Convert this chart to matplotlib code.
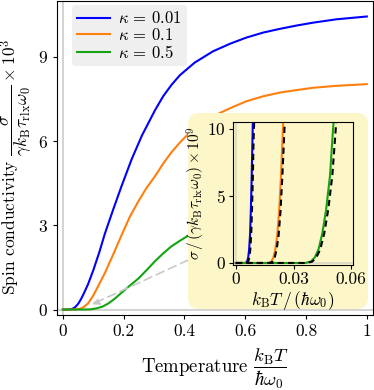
import numpy as np
import matplotlib
matplotlib.use('Agg')
import matplotlib.pyplot as plt
from matplotlib.patches import FancyBboxPatch
from matplotlib.transforms import IdentityTransform

plt.rcParams.update({
    'mathtext.fontset': 'cm',
    'font.family': 'serif',
    'font.serif': ['cmr10'],
    'axes.formatter.use_mathtext': True,
    'axes.unicode_minus': False,
})

# Main panel: spin conductivity vs temperature
T_blue = [0, 0.02, 0.03, 0.04, 0.05, 0.06, 0.07, 0.083, 0.1, 0.12, 0.138, 0.165, 0.193, 0.226,
          0.26, 0.303, 0.33, 0.357, 0.385, 0.434, 0.494, 0.55, 0.604, 0.66, 0.714, 0.77, 0.823,
          0.9, 1.0]
s_blue = [0, 0, 0.02, 0.08, 0.2, 0.38, 0.6, 0.91, 1.4, 2.05, 2.7, 3.55, 4.4, 5.35,
          6.2, 7.1, 7.6, 8.0, 8.35, 8.8, 9.2, 9.47, 9.69, 9.87, 10.0, 10.12, 10.22,
          10.34, 10.44]

T_orange = [0, 0.04, 0.05, 0.06, 0.07, 0.083, 0.1, 0.12, 0.138, 0.165, 0.193, 0.22, 0.248,
            0.275, 0.303, 0.33, 0.357, 0.385, 0.412, 0.46, 0.516, 0.56, 0.604, 0.66, 0.714,
            0.77, 0.823, 0.9, 1.0]
s_orange = [0, 0, 0.01, 0.04, 0.1, 0.22, 0.5, 0.92, 1.3, 1.95, 2.65, 3.3, 3.85,
            4.33, 4.75, 5.2, 5.6, 5.95, 6.25, 6.65, 7.0, 7.22, 7.42, 7.6, 7.73,
            7.82, 7.9, 7.97, 8.03]

T_green = [0, 0.07, 0.09, 0.11, 0.13, 0.15, 0.17, 0.193, 0.22, 0.248, 0.275, 0.303, 0.33,
           0.357, 0.385, 0.412, 0.45, 0.5, 0.6, 0.7, 0.8, 0.9, 1.0]
s_green = [0, 0, 0.005, 0.04, 0.1, 0.22, 0.38, 0.6, 0.85, 1.1, 1.4, 1.72, 2.0,
           2.25, 2.45, 2.63, 2.9, 3.25, 3.85, 4.3, 4.6, 4.8, 5.0]

labels = [r'$\kappa\,=\,0.01$', r'$\kappa\,=\,0.1$', r'$\kappa\,=\,0.5$']
colors = ['#0000ff', '#ff7f0e', '#13a313']

xticks = [0, 0.2, 0.4, 0.6, 0.8, 1.0]
xticklabels = ['0', '0.2', '0.4', '0.6', '0.8', '1']
yticks = [0, 3, 6, 9]

# Inset: low temperature detail, full result (solid) and asymptote (dashed)
t_in_blue = [0, 0.005, 0.0058, 0.0064, 0.0069, 0.0074, 0.0078, 0.0082, 0.0086, 0.0089]
y_in_blue = [0, 0, 0.1, 0.4, 1.0, 2.2, 4.0, 6.2, 9.0, 11.0]
t_as_blue = [0, 0.0055, 0.0064, 0.007, 0.0075, 0.008, 0.0084, 0.0088, 0.0092, 0.0096]
y_as_blue = [0, 0, 0.1, 0.4, 1.0, 2.2, 4.0, 6.2, 9.0, 11.0]

t_in_orange = [0, 0.017, 0.0185, 0.0195, 0.0205, 0.0215, 0.0225, 0.0235, 0.0245, 0.025]
y_in_orange = [0, 0, 0.1, 0.4, 1.0, 2.0, 3.8, 6.5, 10.0, 11.5]
t_as_orange = [0, 0.0175, 0.0191, 0.0202, 0.0212, 0.0222, 0.0232, 0.0242, 0.0253, 0.0258]
y_as_orange = [0, 0, 0.1, 0.4, 1.0, 2.0, 3.8, 6.5, 10.0, 11.5]

t_in_green = [0, 0.036, 0.039, 0.041, 0.043, 0.045, 0.047, 0.049, 0.0506, 0.0515]
y_in_green = [0, 0, 0.1, 0.4, 1.0, 2.2, 4.0, 6.5, 10.0, 11.5]
t_as_green = [0, 0.0365, 0.0397, 0.0418, 0.0439, 0.046, 0.0481, 0.0502, 0.052, 0.053]
y_as_green = [0, 0, 0.1, 0.4, 1.0, 2.2, 4.0, 6.5, 10.0, 11.5]

in_xticks = [0, 0.03, 0.06]
in_xticklabels = ['0', '0.03', '0.06']
in_yticks = [0, 5, 10]

fig = plt.figure(figsize=(3.74, 3.90), dpi=100)
ax = fig.add_axes([0.152, 0.192, 0.845, 0.806])

ax.axhline(0, color='#cccccc', lw=1.2, zorder=0)
ax.axvline(0, color='#cccccc', lw=1.2, zorder=0)
ax.plot(T_blue, s_blue, color=colors[0], lw=1.5, label=labels[0])
ax.plot(T_orange, s_orange, color=colors[1], lw=1.5, label=labels[1])
ax.plot(T_green, s_green, color=colors[2], lw=1.5, label=labels[2])

ax.annotate('', xy=(0.087, 0.14), xytext=(0.5, 2.2),
            arrowprops=dict(arrowstyle='-|>', color='#c8c8c8', lw=1.2,
                            linestyle=(0, (5, 3)), mutation_scale=10))

ax.set_xlim(-0.02, 1.02)
ax.set_ylim(-0.2, 11.0)
ax.set_xticks(xticks)
ax.set_xticklabels(xticklabels)
ax.set_yticks(yticks)
ax.tick_params(labelsize=12.5, length=3)
ax.set_xlabel(r'Temperature $\dfrac{k_\mathrm{B}T}{\hbar\omega_0}$', fontsize=13.5, labelpad=5)
ax.set_ylabel(r'Spin conductivity $\dfrac{\sigma}{\gamma k_\mathrm{B}\tau_\mathrm{rlx}\omega_0}\times 10^3$',
              fontsize=12.5, labelpad=2)
ax.yaxis.set_label_coords(-0.07, 0.47)

leg = ax.legend(loc='upper left', bbox_to_anchor=(0.047, 0.985), borderaxespad=0,
                fontsize=12, handlelength=2.0, labelspacing=0.05, borderpad=0.3,
                handletextpad=0.5, fancybox=True,
                facecolor='#f0eff0', edgecolor='none', framealpha=1)

# yellow backdrop for the inset, in pixels
box = FancyBboxPatch((188, 81), 180, 196, boxstyle='round,pad=0,rounding_size=11',
                     transform=IdentityTransform(), facecolor='#fcf6c8', edgecolor='none',
                     zorder=10, clip_on=False)
ax.add_patch(box)

ins = fig.add_axes([0.623, 0.3205, 0.321, 0.367])
ins.set_facecolor('#fcf6c8')
ins.axhline(0, color='#d8d8c8', lw=1.2, zorder=0)
ins.axvline(0, color='#d8d8c8', lw=1.2, zorder=0)
ins.plot(t_in_blue, y_in_blue, color=colors[0], lw=1.5)
ins.plot(t_in_orange, y_in_orange, color=colors[1], lw=1.5)
ins.plot(t_in_green, y_in_green, color=colors[2], lw=1.5)
for t, y in [(t_as_blue, y_as_blue), (t_as_orange, y_as_orange), (t_as_green, y_as_green)]:
    ins.plot(t, y, color='black', lw=1.5, linestyle=(0, (3, 2)))
ins.set_xlim(-0.0015, 0.061)
ins.set_ylim(-0.15, 10.5)
ins.set_xticks(in_xticks)
ins.set_xticklabels(in_xticklabels)
ins.set_yticks(in_yticks)
ins.tick_params(labelsize=12.5, length=3, pad=2)
ins.set_xlabel(r'$k_\mathrm{B}T\,/\,(\hbar\omega_0)$', fontsize=12.5, labelpad=1)
ins.set_ylabel(r'$\sigma\,/\,(\gamma k_\mathrm{B}\tau_\mathrm{rlx}\omega_0)\times 10^9$', fontsize=11, labelpad=2)
ins.yaxis.set_label_coords(-0.22, 0.5)

fig.savefig('out.png', dpi=100)
